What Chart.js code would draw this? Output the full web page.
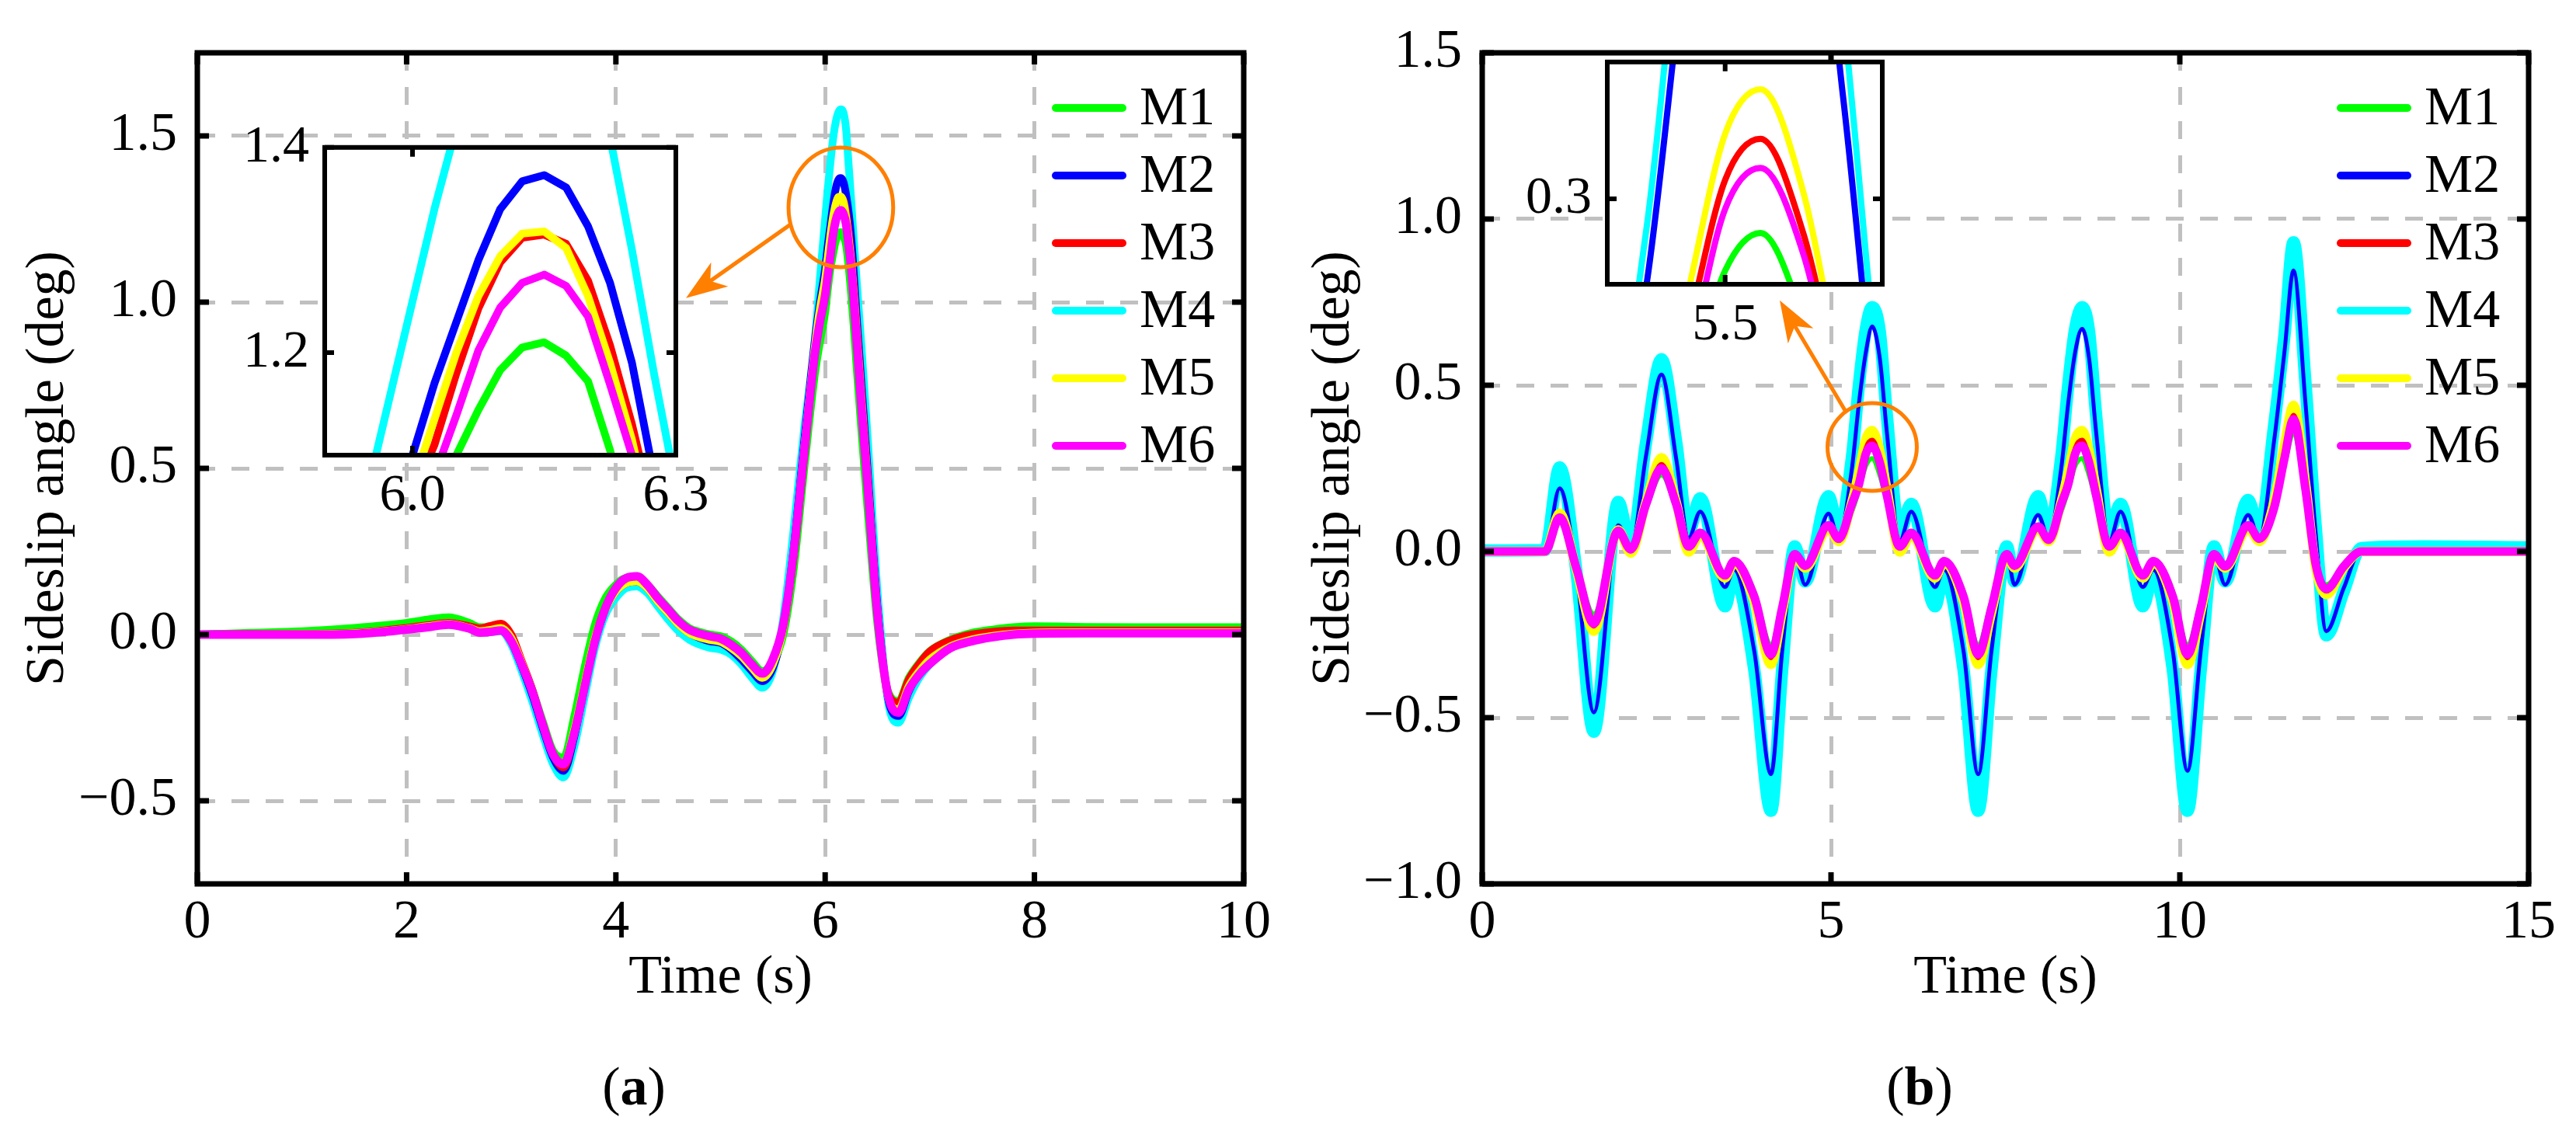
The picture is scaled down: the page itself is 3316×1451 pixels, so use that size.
<!DOCTYPE html>
<html>
<head>
<meta charset="utf-8">
<script src="https://cdn.jsdelivr.net/npm/chart.js@4.4.1/dist/chart.umd.min.js"></script>
<style>
  html, body { margin: 0; padding: 0; background: #fff; }
  body { width: 3316px; height: 1451px; position: relative; overflow: hidden; font-family: "Liberation Serif", "Times New Roman", "DejaVu Serif", serif; }
  canvas { position: absolute; }
  .cap { position: absolute; font-size: 70px; line-height: 1; transform: translate(-50%, -50%); color: #000; white-space: nowrap; }
</style>
</head>
<body>
<canvas id="mainA" width="1658" height="1451" style="left:0;top:0"></canvas>
<canvas id="mainB" width="1658" height="1451" style="left:1658px;top:0"></canvas>
<canvas id="insetA" width="662" height="567" style="left:278px;top:129px"></canvas>
<canvas id="insetB" width="564" height="457" style="left:1929px;top:19px"></canvas>
<div class="cap" style="left:816px;top:1399px">(<b>a</b>)</div>
<div class="cap" style="left:2471px;top:1399px">(<b>b</b>)</div>

<script>
const seriesNames = ['M1', 'M2', 'M3', 'M4', 'M5', 'M6'];
const seriesColors = ['#00ff00', '#0000ff', '#ff0000', '#00ffff', '#ffff00', '#ff00ff'];

// (a) time axis, s
const timeA = [0, 0.5, 1.0, 1.5, 2.0, 2.2, 2.4, 2.6, 2.7, 2.8, 2.9,
  3.0, 3.1, 3.2, 3.3, 3.4, 3.5, 3.6, 3.7, 3.8, 3.9,
  4.0, 4.1, 4.2, 4.3, 4.4, 4.5, 4.6, 4.7, 4.8, 4.9,
  5.0, 5.1, 5.2, 5.3, 5.4, 5.5, 5.6, 5.7, 5.8, 5.9, 5.95,
  6.0, 6.025, 6.05, 6.075, 6.1, 6.125, 6.15, 6.175, 6.2, 6.225, 6.25, 6.275, 6.3,
  6.35, 6.4, 6.5, 6.6, 6.7, 6.8, 6.9, 7.0,
  7.2, 7.4, 7.6, 7.8, 8.0, 8.5, 9.0, 9.5, 10.0];

const m1A = [0, 0.005, 0.01, 0.02, 0.035, 0.045, 0.052, 0.035, 0.022, 0.022, 0.02,
  -0.015, -0.085, -0.165, -0.26, -0.35, -0.37, -0.25, -0.10, 0.03, 0.11,
  0.15, 0.17, 0.17, 0.15, 0.115, 0.08, 0.045, 0.02, 0.008, 0.0,
  -0.005, -0.02, -0.045, -0.08, -0.11, -0.08, 0.0, 0.2, 0.5, 0.78, 0.88,
  0.97, 1.04, 1.10, 1.144, 1.183, 1.205, 1.21, 1.197, 1.172, 1.105, 1.02, 0.92, 0.81,
  0.60, 0.40, 0.03, -0.17, -0.20, -0.13, -0.085, -0.05,
  -0.015, 0.005, 0.015, 0.022, 0.025, 0.023, 0.022, 0.022, 0.022];
const m2A = [0, 0.002, 0.004, 0.01, 0.025, 0.033, 0.04, 0.028, 0.015, 0.018, 0.02,
  -0.02, -0.095, -0.18, -0.28, -0.37, -0.41, -0.31, -0.16, -0.02, 0.075,
  0.13, 0.155, 0.16, 0.14, 0.10, 0.065, 0.03, 0.005, -0.01, -0.02,
  -0.025, -0.045, -0.075, -0.11, -0.14, -0.10, 0.02, 0.26, 0.58, 0.88, 1.0,
  1.10, 1.17, 1.23, 1.29, 1.34, 1.367, 1.373, 1.361, 1.323, 1.268, 1.19, 1.08, 0.96,
  0.74, 0.52, 0.08, -0.19, -0.245, -0.17, -0.115, -0.08,
  -0.03, -0.005, 0.008, 0.014, 0.016, 0.015, 0.015, 0.015, 0.015];
const m3A = [0, 0.001, 0.002, 0.005, 0.02, 0.028, 0.035, 0.025, 0.018, 0.026, 0.033,
  0.0, -0.08, -0.165, -0.27, -0.36, -0.40, -0.30, -0.15, -0.01, 0.08,
  0.14, 0.165, 0.17, 0.145, 0.105, 0.07, 0.035, 0.01, -0.002, -0.01,
  -0.016, -0.035, -0.06, -0.095, -0.12, -0.08, 0.02, 0.24, 0.54, 0.85, 0.96,
  1.06, 1.11, 1.18, 1.243, 1.288, 1.312, 1.315, 1.306, 1.27, 1.207, 1.13, 1.04, 0.93,
  0.71, 0.50, 0.07, -0.175, -0.205, -0.135, -0.088, -0.051,
  -0.017, 0.0, 0.008, 0.012, 0.012, 0.012, 0.012, 0.012, 0.012];
const m4A = [0, 0.0, 0.002, 0.006, 0.02, 0.028, 0.035, 0.02, 0.008, 0.008, 0.01,
  -0.03, -0.11, -0.2, -0.3, -0.39, -0.43, -0.34, -0.19, -0.04, 0.06,
  0.11, 0.14, 0.145, 0.125, 0.085, 0.045, 0.01, -0.015, -0.03, -0.04,
  -0.045, -0.06, -0.09, -0.13, -0.16, -0.11, 0.05, 0.32, 0.62, 0.88, 1.07,
  1.25, 1.34, 1.42, 1.49, 1.54, 1.57, 1.58, 1.57, 1.52, 1.41, 1.30, 1.18, 1.07,
  0.85, 0.62, 0.13, -0.2, -0.265, -0.19, -0.13, -0.09,
  -0.04, -0.012, 0.003, 0.01, 0.012, 0.012, 0.012, 0.012, 0.012];
const m5A = [0, 0.0, 0.001, 0.004, 0.017, 0.025, 0.032, 0.02, 0.01, 0.014, 0.02,
  -0.01, -0.085, -0.17, -0.27, -0.36, -0.39, -0.29, -0.15, -0.01, 0.075,
  0.13, 0.155, 0.16, 0.14, 0.10, 0.065, 0.03, 0.005, -0.008, -0.016,
  -0.022, -0.04, -0.065, -0.10, -0.13, -0.09, 0.02, 0.25, 0.56, 0.86, 0.98,
  1.07, 1.135, 1.20, 1.255, 1.294, 1.316, 1.318, 1.302, 1.255, 1.19, 1.115, 1.02, 0.91,
  0.69, 0.48, 0.06, -0.185, -0.225, -0.155, -0.11, -0.075,
  -0.035, -0.015, -0.004, 0.003, 0.006, 0.007, 0.007, 0.007, 0.007];
const m6A = [0, 0, 0, 0.002, 0.015, 0.022, 0.03, 0.018, 0.006, 0.008, 0.012,
  -0.02, -0.09, -0.17, -0.27, -0.36, -0.39, -0.30, -0.16, -0.02, 0.08,
  0.14, 0.17, 0.175, 0.15, 0.11, 0.075, 0.04, 0.015, 0.003, -0.005,
  -0.012, -0.03, -0.055, -0.09, -0.117, -0.074, 0.03, 0.25, 0.55, 0.84, 0.94,
  1.02, 1.08, 1.139, 1.202, 1.244, 1.268, 1.276, 1.265, 1.235, 1.169, 1.10, 1.00, 0.89,
  0.67, 0.47, 0.06, -0.18, -0.235, -0.165, -0.12, -0.088,
  -0.04, -0.02, -0.008, 0.0, 0.003, 0.004, 0.004, 0.004, 0.004];

// (b) time axis, s
const timeB = [0, 0.9, 1.11, 1.35, 1.6, 1.95, 2.13, 2.35, 2.57, 2.78, 2.96,
  3.125, 3.48, 3.61, 3.9, 4.14, 4.3, 4.48, 4.63, 4.965, 5.11,
  5.3, 5.4, 5.5, 5.59, 5.7, 5.8, 5.985,
  6.15, 6.49, 6.62, 6.9, 7.11, 7.3, 7.52, 7.63, 7.97, 8.12,
  8.3, 8.4, 8.5, 8.6, 8.7, 8.8, 8.99,
  9.15, 9.47, 9.62, 9.9, 10.11, 10.3, 10.49, 10.65, 10.98, 11.14,
  11.35, 11.5, 11.63, 11.8, 11.95, 12.1, 12.35, 12.6, 13.5, 15];

const m1B = [0, 0, 0.09, -0.04, -0.188, 0.06, 0.008, 0.13, 0.23, 0.13, 0.02,
  0.055, -0.065, -0.025, -0.12, -0.28, -0.15, -0.005, -0.038, 0.075, 0.038,
  0.12, 0.185, 0.258, 0.28, 0.229, 0.15, 0.02,
  0.055, -0.065, -0.025, -0.12, -0.28, -0.15, -0.005, -0.038, 0.072, 0.036,
  0.12, 0.185, 0.258, 0.28, 0.229, 0.15, 0.02,
  0.055, -0.065, -0.025, -0.12, -0.28, -0.15, -0.005, -0.04, 0.075, 0.038,
  0.12, 0.26, 0.352, 0.17, -0.035, -0.10, -0.04, 0, 0, 0];
const m2B = [0, 0, 0.19, -0.06, -0.484, 0.079, 0.01, 0.29, 0.532, 0.28, 0.04,
  0.12, -0.107, -0.055, -0.30, -0.67, -0.30, -0.01, -0.10, 0.114, 0.04,
  0.25, 0.445, 0.60, 0.677, 0.58, 0.36, 0.03,
  0.12, -0.107, -0.055, -0.30, -0.67, -0.30, -0.01, -0.10, 0.11, 0.04,
  0.25, 0.445, 0.60, 0.67, 0.58, 0.36, 0.03,
  0.12, -0.107, -0.055, -0.30, -0.66, -0.30, -0.01, -0.10, 0.11, 0.04,
  0.33, 0.60, 0.845, 0.45, 0.05, -0.24, -0.11, 0.005, 0.005, 0.005];
const m3B = [0, 0, 0.105, -0.05, -0.225, 0.068, 0.008, 0.145, 0.262, 0.145, 0.015,
  0.06, -0.075, -0.03, -0.14, -0.32, -0.175, -0.01, -0.045, 0.082, 0.04,
  0.145, 0.22, 0.311, 0.335, 0.279, 0.18, 0.015,
  0.06, -0.075, -0.03, -0.14, -0.32, -0.175, -0.01, -0.045, 0.08, 0.038,
  0.145, 0.22, 0.311, 0.335, 0.279, 0.18, 0.015,
  0.06, -0.075, -0.03, -0.14, -0.32, -0.175, -0.01, -0.047, 0.082, 0.04,
  0.14, 0.30, 0.41, 0.20, -0.045, -0.12, -0.048, 0, 0, 0];
const m4B = [0.003, 0.004, 0.253, -0.06, -0.542, 0.149, 0.015, 0.33, 0.578, 0.33, 0.06,
  0.16, -0.165, -0.072, -0.356, -0.78, -0.356, 0.015, -0.09, 0.166, 0.06,
  0.283, 0.50, 0.67, 0.735, 0.66, 0.41, 0.06,
  0.143, -0.165, -0.072, -0.356, -0.78, -0.356, 0.015, -0.09, 0.166, 0.06,
  0.283, 0.50, 0.67, 0.735, 0.66, 0.41, 0.06,
  0.143, -0.165, -0.072, -0.356, -0.78, -0.356, 0.015, -0.09, 0.155, 0.06,
  0.375, 0.65, 0.93, 0.51, 0.07, -0.252, -0.12, 0.01, 0.015, 0.012];
const m5B = [0, 0, 0.115, -0.055, -0.24, 0.065, -0.005, 0.15, 0.282, 0.15, -0.002,
  0.05, -0.08, -0.035, -0.15, -0.34, -0.185, -0.015, -0.05, 0.07, 0.03,
  0.15, 0.24, 0.338, 0.364, 0.303, 0.19, -0.002,
  0.05, -0.08, -0.035, -0.15, -0.34, -0.185, -0.015, -0.05, 0.07, 0.03,
  0.15, 0.24, 0.338, 0.364, 0.303, 0.19, -0.002,
  0.05, -0.08, -0.035, -0.15, -0.34, -0.185, -0.015, -0.05, 0.07, 0.03,
  0.15, 0.32, 0.44, 0.21, -0.05, -0.13, -0.05, 0, 0, 0];
const m6B = [0, 0, 0.102, -0.05, -0.217, 0.062, 0.006, 0.143, 0.25, 0.143, 0.015,
  0.056, -0.072, -0.029, -0.136, -0.31, -0.17, -0.008, -0.043, 0.079, 0.038,
  0.143, 0.202, 0.294, 0.318, 0.267, 0.17, 0.015,
  0.056, -0.072, -0.029, -0.136, -0.31, -0.17, -0.008, -0.043, 0.075, 0.035,
  0.143, 0.202, 0.294, 0.318, 0.267, 0.17, 0.015,
  0.056, -0.072, -0.029, -0.136, -0.31, -0.17, -0.008, -0.045, 0.079, 0.038,
  0.13, 0.28, 0.398, 0.19, -0.04, -0.113, -0.045, 0, 0, 0];

// tick values
const xTicksA = [0, 2, 4, 6, 8, 10];
const yTicksA = [-0.5, 0, 0.5, 1.0, 1.5];
const xTicksB = [0, 5, 10, 15];
const yTicksB = [-1.0, -0.5, 0, 0.5, 1.0, 1.5];
const insetXTicksA = [6.0, 6.3];
const insetYTicksA = [1.2, 1.4];
const insetXTicksB = [5.5];
const insetYTicksB = [0.3];

// zoom marks: ellipse [x, y, rx, ry] and arrow [x0, y0, x1, y1], data units
const markEllipseA = [6.15, 1.285, 0.5, 0.18];
const markArrowA = [5.67, 1.234, 4.67, 1.012];
const markEllipseB = [5.59, 0.314, 0.64, 0.132];
const markArrowB = [5.21, 0.421, 4.265, 0.755];

const FONT = "'Liberation Serif', 'Times New Roman', 'DejaVu Serif', serif";
Chart.defaults.font.family = FONT;
Chart.defaults.color = '#000';

const fmtSigned = v => (v < 0 ? '\u2212' : '') + Math.abs(v).toFixed(1);

const frameTicks = {
  id: 'frameTicks',
  afterDatasetsDraw(chart, args, o) {
    const { ctx, chartArea: a } = chart;
    const xs = chart.scales.x, ys = chart.scales.y;
    ctx.save();
    ctx.strokeStyle = '#000';
    ctx.lineWidth = o.tickWidth;
    ctx.beginPath();
    xs.ticks.forEach(t => {
      const p = xs.getPixelForValue(t.value);
      ctx.moveTo(p, a.bottom); ctx.lineTo(p, a.bottom - o.tickLen);
      ctx.moveTo(p, a.top); ctx.lineTo(p, a.top + o.tickLen);
    });
    ys.ticks.forEach(t => {
      const p = ys.getPixelForValue(t.value);
      ctx.moveTo(a.left, p); ctx.lineTo(a.left + o.tickLen, p);
      ctx.moveTo(a.right, p); ctx.lineTo(a.right - o.tickLen, p);
    });
    ctx.stroke();
    ctx.lineWidth = o.frameWidth;
    ctx.strokeRect(a.left, a.top, a.right - a.left, a.bottom - a.top);
    ctx.restore();
  }
};

const whiteArea = {
  id: 'whiteArea',
  beforeDatasetsDraw(chart, args, o) {
    if (!o.on) return;
    const { ctx, chartArea: a } = chart;
    ctx.save();
    ctx.fillStyle = '#fff';
    ctx.fillRect(a.left, a.top, a.right - a.left, a.bottom - a.top);
    ctx.restore();
  }
};

const lineKey = {
  id: 'lineKey',
  afterDatasetsDraw(chart, args, o) {
    if (!o.on) return;
    const { ctx, chartArea: a } = chart;
    ctx.save();
    ctx.font = '70px ' + FONT;
    ctx.textBaseline = 'middle';
    ctx.textAlign = 'left';
    ctx.lineCap = 'round';
    ctx.lineWidth = 10;
    chart.data.datasets.forEach((ds, i) => {
      const yy = a.top + o.top + i * o.step;
      ctx.strokeStyle = ds.borderColor;
      ctx.beginPath();
      ctx.moveTo(a.right - o.lineFrom, yy);
      ctx.lineTo(a.right - o.lineTo, yy);
      ctx.stroke();
      ctx.fillStyle = '#000';
      ctx.fillText(ds.label, a.right - o.textAt, yy + 3);
    });
    ctx.restore();
  }
};

const zoomMark = {
  id: 'zoomMark',
  afterDatasetsDraw(chart, args, o) {
    if (!o.ellipse) return;
    const { ctx } = chart;
    const xs = chart.scales.x, ys = chart.scales.y;
    const [ex, ey, erx, ery] = o.ellipse;
    const cx = xs.getPixelForValue(ex), cy = ys.getPixelForValue(ey);
    const rx = Math.abs(xs.getPixelForValue(ex + erx) - cx);
    const ry = Math.abs(ys.getPixelForValue(ey + ery) - cy);
    ctx.save();
    ctx.strokeStyle = '#ff7f00';
    ctx.fillStyle = '#ff7f00';
    ctx.lineWidth = 5;
    ctx.beginPath();
    ctx.ellipse(cx, cy, rx, ry, 0, 0, Math.PI * 2);
    ctx.stroke();

    const x0 = xs.getPixelForValue(o.arrow[0]), y0 = ys.getPixelForValue(o.arrow[1]);
    const x1 = xs.getPixelForValue(o.arrow[2]), y1 = ys.getPixelForValue(o.arrow[3]);
    const len = Math.hypot(x1 - x0, y1 - y0);
    const ux = (x1 - x0) / len, uy = (y1 - y0) / len;
    const L = 53, W = 19;
    const bx = x1 - ux * L, by = y1 - uy * L;
    const nx = x1 - ux * L * 0.72, ny = y1 - uy * L * 0.72;
    ctx.beginPath();
    ctx.moveTo(x0, y0);
    ctx.lineTo(nx, ny);
    ctx.stroke();
    ctx.beginPath();
    ctx.moveTo(x1, y1);
    ctx.lineTo(bx - uy * W, by + ux * W);
    ctx.lineTo(nx, ny);
    ctx.lineTo(bx + uy * W, by - ux * W);
    ctx.closePath();
    ctx.fill();
    ctx.restore();
  }
};

function makeSets(time, series, widths, orders, smooth) {
  return series.map((vals, i) => ({
    label: seriesNames[i],
    data: time.map((t, k) => ({ x: t, y: vals[k] })),
    borderColor: seriesColors[i],
    backgroundColor: seriesColors[i],
    borderWidth: widths[i],
    order: orders[i],
    pointRadius: 0,
    tension: smooth ? 0.4 : 0,
    cubicInterpolationMode: smooth ? 'monotone' : 'default',
    borderJoinStyle: 'round',
    clip: 0,
    fill: false
  }));
}

function mainChart(id, time, series, widths, orders, xr, yr, xt, yt, cfg) {
  return new Chart(document.getElementById(id), {
    type: 'line',
    data: { datasets: makeSets(time, series, widths, orders, true) },
    plugins: [whiteArea, frameTicks, lineKey, zoomMark],
    options: {
      responsive: false,
      animation: false,
      events: [],
      layout: { padding: { left: 0, top: 54, right: cfg.padRight, bottom: 143 } },
      plugins: {
        legend: { display: false },
        tooltip: { enabled: false },
        frameTicks: { tickLen: 15, tickWidth: 7, frameWidth: 7 },
        lineKey: { on: true, top: 71, step: 87, lineFrom: 242, lineTo: 156, textAt: 134 },
        zoomMark: { ellipse: cfg.ellipse, arrow: cfg.arrow },
        whiteArea: { on: false }
      },
      scales: {
        x: {
          type: 'linear', min: xr[0], max: xr[1],
          afterBuildTicks: s => { s.ticks = xt.map(v => ({ value: v })); },
          afterFit: s => { s.height = 170; },
          grid: { color: '#c0c0c0', lineWidth: 5, drawTicks: false },
          border: { display: false, dash: [23, 21] },
          ticks: { padding: 9, maxRotation: 0, font: { size: 70 }, callback: v => String(v) },
          title: { display: true, text: 'Time (s)', font: { size: 70 }, padding: { top: 0, bottom: 6 } }
        },
        y: {
          type: 'linear', min: yr[0], max: yr[1],
          afterBuildTicks: s => { s.ticks = yt.map(v => ({ value: v })); },
          afterFit: s => { s.width = cfg.axisWidth; },
          grid: { color: '#c0c0c0', lineWidth: 5, drawTicks: false },
          border: { display: false, dash: [23, 21] },
          ticks: { padding: 26, font: { size: 70 }, callback: v => fmtSigned(v) },
          title: { display: true, text: 'Sideslip angle (deg)', font: { size: 70 }, padding: { top: cfg.titlePad, bottom: 0 } }
        }
      }
    }
  });
}

function insetChart(id, time, series, width, orders, xr, yr, xt, yt, smooth) {
  return new Chart(document.getElementById(id), {
    type: 'line',
    data: { datasets: makeSets(time, series, series.map(() => width), orders, smooth) },
    plugins: [whiteArea, frameTicks],
    options: {
      responsive: false,
      animation: false,
      events: [],
      layout: { padding: { left: 0, top: 60, right: 70, bottom: 0 } },
      plugins: {
        legend: { display: false },
        tooltip: { enabled: false },
        frameTicks: { tickLen: 12, tickWidth: 6, frameWidth: 6 },
        whiteArea: { on: true }
      },
      scales: {
        x: {
          type: 'linear', min: xr[0], max: xr[1],
          afterBuildTicks: s => { s.ticks = xt.map(v => ({ value: v })); },
          afterFit: s => { s.height = 110; },
          grid: { display: false, drawTicks: false },
          border: { display: false },
          ticks: { padding: 12, maxRotation: 0, font: { size: 68 }, callback: v => v.toFixed(1) }
        },
        y: {
          type: 'linear', min: yr[0], max: yr[1],
          afterBuildTicks: s => { s.ticks = yt.map(v => ({ value: v })); },
          afterFit: s => { s.width = 140; },
          grid: { display: false, drawTicks: false },
          border: { display: false },
          ticks: { padding: 20, font: { size: 68 }, callback: v => v.toFixed(1) }
        }
      }
    }
  });
}

const seriesA = [m1A, m2A, m3A, m4A, m5A, m6A];
const seriesB = [m1B, m2B, m3B, m4B, m5B, m6B];
// draw order: lower number is painted on top
const ordersA = [3, 4, 2, 5, 1, 0];
const ordersB = [3, 4, 1, 5, 2, 0];

mainChart('mainA', timeA, seriesA, [10, 10, 10, 10, 10, 11], ordersA,
  [0, 10], [-0.75, 1.75], xTicksA, yTicksA,
  { padRight: 57, axisWidth: 254, titlePad: 21, ellipse: markEllipseA, arrow: markArrowA });

mainChart('mainB', timeB, seriesB, [6, 5, 6, 16, 12, 11], ordersB,
  [0, 15], [-1.0, 1.5], xTicksB, yTicksB,
  { padRight: 61, axisWidth: 250, titlePad: 18, ellipse: markEllipseB, arrow: markArrowB });

insetChart('insetA', timeA, seriesA, 10, ordersA, [5.9, 6.3], [1.1, 1.4], insetXTicksA, insetYTicksA, false);
insetChart('insetB', timeB, seriesB, 8, ordersB, [5.2, 5.9], [0.25, 0.38], insetXTicksB, insetYTicksB, true);
</script>
</body>
</html>
